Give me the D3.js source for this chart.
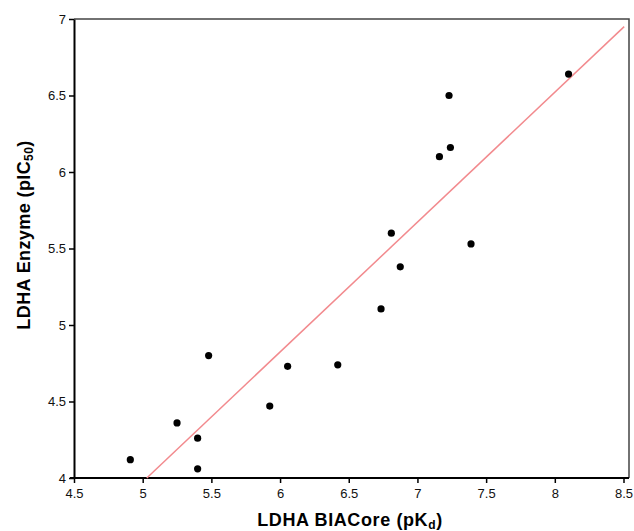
<!DOCTYPE html>
<html>
<head>
<meta charset="utf-8">
<script src="https://cdn.jsdelivr.net/npm/d3@7"></script>
<style>
  body { margin: 0; background: #fff; }
  svg text { font-family: "Liberation Sans", Arial, sans-serif; }
</style>
</head>
<body>
<script>
(function () {
    "use strict";

    // measured points: BIACore pKd vs enzyme pIC50
    var pKd = [8.10, 7.23, 7.24, 7.16, 6.81, 7.39, 6.875, 6.735, 5.48, 6.055, 6.42, 5.925, 5.25, 5.40, 4.91, 5.40];
    var pIC50 = [6.64, 6.50, 6.16, 6.10, 5.60, 5.53, 5.38, 5.105, 4.80, 4.73, 4.74, 4.47, 4.36, 4.26, 4.12, 4.06];

    // fitted line end points
    var fitX = [5.03, 8.505];
    var fitY = [4.0, 6.95];

    var xTicks = [4.5, 5, 5.5, 6, 6.5, 7, 7.5, 8, 8.5];
    var yTicks = [4, 4.5, 5, 5.5, 6, 6.5, 7];

    var width = 634, height = 531;
    var margin = {top: 19, right: 5, bottom: 53, left: 74};

    var svg = d3.select("body").append("svg")
        .attr("width", width)
        .attr("height", height);

    var x = d3.scaleLinear().domain([4.5, 8.5]).range([margin.left, 623.5]);
    var y = d3.scaleLinear().domain([4, 7]).range([height - margin.bottom, margin.top]);

    // frame (top and right edges)
    svg.append("path")
        .attr("d", "M" + x(4.5) + "," + y(7) + "H" + (width - margin.right) + "V" + y(4))
        .attr("fill", "none")
        .attr("stroke", "#444")
        .attr("stroke-width", 1.5);

    var xAxis = svg.append("g")
        .attr("transform", "translate(0," + y(4) + ")")
        .call(d3.axisBottom(x).tickValues(xTicks).tickSize(5).tickSizeOuter(0)
            .tickFormat(d3.format("")));
    xAxis.select(".domain")
        .attr("d", "M" + (x(4.5) - 4) + ",0H" + (width - margin.right));

    var yAxis = svg.append("g")
        .attr("transform", "translate(" + x(4.5) + ",0)")
        .call(d3.axisLeft(y).tickValues(yTicks).tickSize(5).tickSizeOuter(0)
            .tickFormat(d3.format("")));

    [xAxis, yAxis].forEach(function (g) {
        g.selectAll(".domain").attr("stroke", "#000").attr("stroke-width", 2);
        g.selectAll(".tick line").attr("stroke", "#000").attr("stroke-width", 1.5);
        g.selectAll(".tick text")
            .attr("font-size", 13)
            .attr("fill", "#111")
            .style("font-family", "'Liberation Sans', Arial, sans-serif");
    });
    xAxis.selectAll(".tick text").attr("dy", "0.9em");
    yAxis.selectAll(".tick text").attr("x", -8);

    // regression line
    svg.append("line")
        .attr("x1", x(fitX[0])).attr("y1", y(fitY[0]))
        .attr("x2", x(fitX[1])).attr("y2", y(fitY[1]))
        .attr("stroke", "#f28a8e")
        .attr("stroke-width", 1.5);

    // points
    svg.append("g").selectAll("circle")
        .data(d3.range(pKd.length))
        .enter().append("circle")
        .attr("cx", function (i) { return x(pKd[i]); })
        .attr("cy", function (i) { return y(pIC50[i]); })
        .attr("r", 3.6)
        .attr("fill", "#000");

    // axis titles
    var xt = svg.append("text")
        .attr("x", 350)
        .attr("y", 526)
        .attr("text-anchor", "middle")
        .attr("font-size", 18)
        .attr("font-weight", "bold")
        .attr("letter-spacing", 0.6)
        .text("LDHA BIACore (pK");
    xt.append("tspan").attr("font-size", 12).attr("dy", 3).text("d");
    xt.append("tspan").attr("dy", -3).text(")");

    var yt = svg.append("text")
        .attr("transform", "translate(30,235) rotate(-90)")
        .attr("text-anchor", "middle")
        .attr("font-size", 18)
        .attr("font-weight", "bold")
        .attr("letter-spacing", 0.4)
        .text("LDHA Enzyme (pIC");
    yt.append("tspan").attr("font-size", 12).attr("dy", 3).text("50");
    yt.append("tspan").attr("dy", -3).text(")");
})();
</script>
</body>
</html>
